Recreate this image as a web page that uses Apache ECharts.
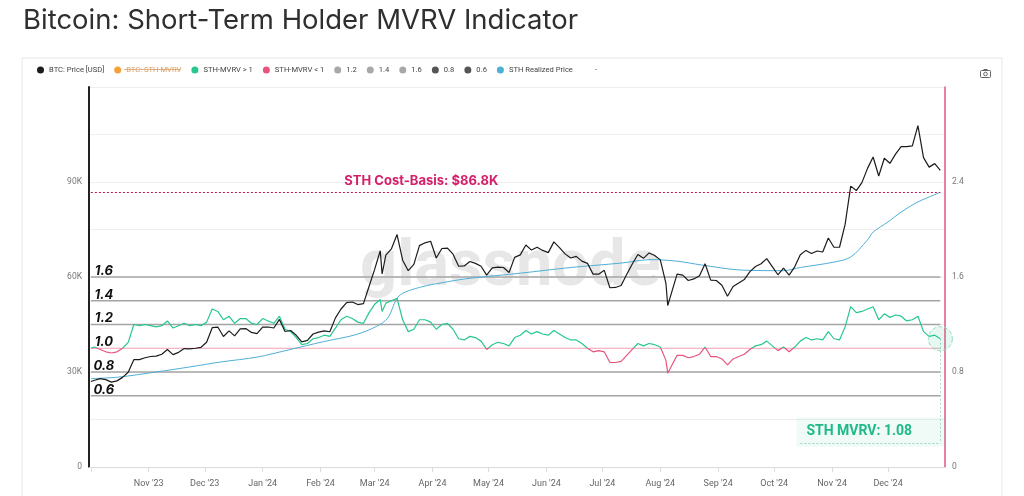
<!doctype html>
<html>
<head>
<meta charset="utf-8">
<title>Bitcoin: Short-Term Holder MVRV Indicator</title>
<script src="https://cdn.jsdelivr.net/npm/echarts@6/dist/echarts.min.js"></script>
<style>
    html, body { margin: 0; background: #fff; }
    #main { width: 1024px; height: 496px; }
</style>
</head>
<body>
<div id="main"></div>
<script>
// daily-ish samples (price in K USD, STH-MVRV ratio)
var dates = [
    '2023-10-01', '2023-10-03', '2023-10-06', '2023-10-09', '2023-10-12', '2023-10-15', '2023-10-18', '2023-10-21', '2023-10-24', '2023-10-27', '2023-10-30',
    '2023-11-02', '2023-11-05', '2023-11-08', '2023-11-11', '2023-11-14', '2023-11-17', '2023-11-20', '2023-11-23', '2023-11-26', '2023-11-29',
    '2023-12-02', '2023-12-05', '2023-12-08', '2023-12-11', '2023-12-14', '2023-12-17', '2023-12-20', '2023-12-23', '2023-12-26', '2023-12-29',
    '2024-01-01', '2024-01-04', '2024-01-07', '2024-01-10', '2024-01-13', '2024-01-16', '2024-01-19', '2024-01-22', '2024-01-25', '2024-01-28', '2024-01-31',
    '2024-02-03', '2024-02-06', '2024-02-09', '2024-02-12', '2024-02-15', '2024-02-18', '2024-02-21', '2024-02-24', '2024-02-27',
    '2024-03-01', '2024-03-04', '2024-03-05', '2024-03-07', '2024-03-10', '2024-03-13', '2024-03-16', '2024-03-19', '2024-03-22', '2024-03-25', '2024-03-28', '2024-03-31',
    '2024-04-03', '2024-04-06', '2024-04-09', '2024-04-12', '2024-04-15', '2024-04-18', '2024-04-21', '2024-04-24', '2024-04-27', '2024-04-30',
    '2024-05-03', '2024-05-06', '2024-05-09', '2024-05-12', '2024-05-15', '2024-05-18', '2024-05-21', '2024-05-24', '2024-05-27', '2024-05-30',
    '2024-06-02', '2024-06-05', '2024-06-08', '2024-06-11', '2024-06-14', '2024-06-17', '2024-06-20', '2024-06-23', '2024-06-26', '2024-06-29',
    '2024-07-02', '2024-07-05', '2024-07-08', '2024-07-11', '2024-07-14', '2024-07-17', '2024-07-20', '2024-07-23', '2024-07-26', '2024-07-29',
    '2024-08-01', '2024-08-04', '2024-08-05', '2024-08-07', '2024-08-10', '2024-08-13', '2024-08-16', '2024-08-19', '2024-08-22', '2024-08-25', '2024-08-28', '2024-08-31',
    '2024-09-03', '2024-09-06', '2024-09-09', '2024-09-12', '2024-09-15', '2024-09-18', '2024-09-21', '2024-09-24', '2024-09-27', '2024-09-30',
    '2024-10-03', '2024-10-06', '2024-10-09', '2024-10-12', '2024-10-15', '2024-10-18', '2024-10-21', '2024-10-24', '2024-10-27', '2024-10-30',
    '2024-11-02', '2024-11-05', '2024-11-08', '2024-11-11', '2024-11-14', '2024-11-17', '2024-11-20', '2024-11-23', '2024-11-26', '2024-11-29',
    '2024-12-02', '2024-12-05', '2024-12-08', '2024-12-11', '2024-12-14', '2024-12-17', '2024-12-20', '2024-12-23', '2024-12-26', '2024-12-29'
];

var btcPrice = [
    27.0, 27.4, 27.9, 27.6, 26.8, 27.2, 28.3, 29.9, 33.9, 33.9, 34.5,
    34.9, 35.0, 35.6, 37.1, 35.5, 36.2, 37.4, 37.3, 37.5, 37.8,
    39.4, 44.0, 44.2, 41.2, 43.0, 41.4, 43.6, 43.7, 42.5, 42.1,
    44.2, 44.2, 43.9, 46.6, 42.8, 43.1, 41.6, 39.5, 40.0, 42.0, 42.6,
    43.0, 42.7, 47.1, 49.9, 51.9, 52.1, 51.3, 51.6, 57.0,
    62.4, 68.3, 61.0, 66.9, 68.9, 73.4, 65.3, 62.0, 64.0, 69.9, 70.8, 71.3,
    66.0, 69.0, 69.1, 67.2, 63.4, 63.5, 64.9, 64.3, 63.4, 60.6,
    62.9, 63.1, 63.0, 61.4, 66.2, 67.0, 70.1, 68.5, 69.4, 68.4,
    67.7, 71.1, 69.3, 67.3, 66.0, 66.5, 65.0, 64.3, 60.9, 60.9,
    62.1, 56.6, 56.7, 57.3, 60.8, 64.1, 67.1, 65.9, 67.6, 66.8,
    65.4, 58.1, 51.0, 55.0, 60.9, 60.6, 58.9, 59.4, 60.4, 64.2, 59.0, 58.9,
    57.4, 53.9, 57.0, 58.1, 59.2, 61.7, 63.3, 64.2, 65.8, 63.3,
    60.7, 62.8, 60.6, 63.2, 67.0, 68.4, 67.4, 68.2, 67.9, 72.3,
    69.4, 69.4, 76.6, 88.7, 87.3, 89.8, 94.3, 97.9, 91.9, 97.5,
    95.9, 98.8, 101.2, 101.2, 101.4, 107.8, 97.7, 94.7, 95.8, 93.7
];

var sthMvrv = [
    1.00, 1.01, 0.99, 0.97, 0.96, 0.97, 1.00, 1.05, 1.20, 1.19, 1.20,
    1.19, 1.18, 1.19, 1.23, 1.17, 1.19, 1.21, 1.19, 1.20, 1.19,
    1.22, 1.33, 1.31, 1.24, 1.27, 1.21, 1.25, 1.25, 1.21, 1.20,
    1.25, 1.23, 1.21, 1.27, 1.16, 1.14, 1.09, 1.03, 1.04, 1.08, 1.09,
    1.11, 1.10, 1.17, 1.24, 1.27, 1.25, 1.22, 1.21, 1.30,
    1.37, 1.41, 1.31, 1.38, 1.40, 1.42, 1.24, 1.14, 1.16, 1.24, 1.24, 1.22,
    1.16, 1.20, 1.21, 1.16, 1.08, 1.07, 1.10, 1.09, 1.06, 0.99,
    1.03, 1.05, 1.04, 1.02, 1.09, 1.11, 1.15, 1.12, 1.14, 1.12,
    1.11, 1.15, 1.12, 1.09, 1.07, 1.07, 1.04, 1.00, 0.97, 0.98,
    0.97, 0.88, 0.88, 0.89, 0.94, 0.99, 1.04, 1.02, 1.04, 1.03,
    1.01, 0.90, 0.79, 0.85, 0.94, 0.94, 0.92, 0.93, 0.95, 1.01, 0.93, 0.93,
    0.91, 0.86, 0.91, 0.93, 0.95, 0.99, 1.02, 1.03, 1.06, 1.02,
    0.98, 1.01, 0.97, 1.01, 1.06, 1.09, 1.07, 1.08, 1.07, 1.14,
    1.08, 1.07, 1.18, 1.35, 1.30, 1.31, 1.33, 1.35, 1.24, 1.29,
    1.26, 1.28, 1.27, 1.23, 1.24, 1.27, 1.14, 1.10, 1.11, 1.08
];

var realizedDates = [
    '2023-10-01', '2023-10-16', '2023-11-05', '2023-11-23', '2023-12-10', '2023-12-29',
    '2024-01-15', '2024-02-02', '2024-02-20', '2024-03-02', '2024-03-08', '2024-03-14',
    '2024-03-25', '2024-04-10', '2024-04-21', '2024-05-18', '2024-06-14', '2024-07-11',
    '2024-07-27', '2024-08-10', '2024-08-23', '2024-09-13', '2024-10-06', '2024-10-15',
    '2024-11-02', '2024-11-11', '2024-11-20', '2024-11-23', '2024-12-01', '2024-12-08',
    '2024-12-17', '2024-12-26', '2024-12-29'
];
var realizedPrice = [
    27.9, 28.4, 30.0, 31.6, 33.2, 34.7,
    37.0, 39.5, 41.8, 44.4, 47.0, 54.0,
    56.7, 58.6, 59.6, 61.2, 63.0, 64.4,
    65.5, 65.0, 63.8, 62.2, 62.0, 63.0,
    64.7, 66.3, 71.7, 74.2, 77.4, 80.5,
    83.7, 86.0, 86.8
];

var levelNames = ['1.2', '1.4', '1.6', '0.8', '0.6'];
var levelValues = [1.2, 1.4, 1.6, 0.8, 0.6];
var costBasis = 86.8;
var lastMvrv = 1.08;
var monthNames = ['Jan', 'Feb', 'Mar', 'Apr', 'May', 'Jun', 'Jul', 'Aug', 'Sep', 'Oct', 'Nov', 'Dec'];

var GREEN = '#27c78e';
var PINK = '#e8557c';
var FONT = 'Roboto, "Noto Sans", sans-serif';

function ts(d) { return Date.parse(d); }
function pairs(xs, ys) {
    return xs.map(function (d, i) { return [ts(d), ys[i]]; });
}

var firstT = ts(dates[0]);
var lastT = ts(dates[dates.length - 1]);

function levelLabel(text, v) {
    return {
        coord: [firstT, v],
        symbol: 'circle',
        symbolSize: 1,
        itemStyle: { color: 'rgba(0,0,0,0)' },
        label: {
            show: true,
            formatter: text,
            position: 'top',
            distance: 2,
            offset: [13, 3],
            color: '#111',
            fontSize: 13,
            fontStyle: 'italic',
            fontWeight: 'bold',
            fontFamily: 'Inter, Roboto, sans-serif'
        }
    };
}

var series = [];

levelNames.forEach(function (name, i) {
    var v = levelValues[i];
    series.push({
        name: name,
        type: 'line',
        yAxisIndex: 1,
        symbol: 'none',
        silent: true,
        color: v < 1 ? '#555' : '#a8a8a8',
        lineStyle: { color: '#a4a4a4', width: 1.4 },
        data: [[firstT, v], [lastT, v]],
        markPoint: { data: [levelLabel(name, v)] },
        z: 1
    });
});

// the 1.0 level, plus the MVRV annotation on the right
series.push({
    name: '1.0',
    type: 'line',
    yAxisIndex: 1,
    symbol: 'none',
    silent: true,
    lineStyle: { color: '#f2a0b4', width: 1.2 },
    data: [[firstT, 1], [lastT, 1]],
    markPoint: {
        data: [
            levelLabel('1.0', 1),
            {
                coord: [ts('2024-11-22'), 0.295],
                symbol: 'circle',
                symbolSize: 1,
                itemStyle: { color: 'rgba(0,0,0,0)' },
                label: {
                    show: true,
                    position: 'inside',
                    formatter: 'STH MVRV: ' + lastMvrv.toFixed(2),
                    color: '#1fb987',
                    fontSize: 14,
                    fontWeight: 'bold',
                    fontFamily: 'Roboto, sans-serif',
                    backgroundColor: 'rgba(70, 200, 160, 0.08)',
                    padding: [8, 34, 7, 10]
                }
            },
            {
                coord: [lastT, lastMvrv],
                symbol: 'circle',
                symbolSize: 24,
                itemStyle: {
                    color: 'rgba(60, 200, 150, 0.12)',
                    borderColor: '#8fdcbf',
                    borderType: 'dashed',
                    borderWidth: 1
                },
                label: { show: false }
            }
        ]
    },
    markLine: {
        silent: true,
        symbol: 'none',
        label: { show: false },
        lineStyle: { color: '#9edfc6', type: [2, 2], width: 1 },
        data: [
            [{ coord: [lastT, lastMvrv] }, { coord: [lastT, 0.2] }],
            [{ coord: [ts('2024-10-15'), 0.2] }, { coord: [lastT, 0.2] }]
        ]
    },
    z: 1
});

// legend-only entries
[['BTC: STH-MVRV', '#f5a13a'], ['STH-MVRV > 1', GREEN], ['STH-MVRV < 1', PINK], ['-', 'rgba(0,0,0,0)']].forEach(function (d) {
    series.push({ name: d[0], type: 'line', color: d[1], data: [] });
});

series.push({
    name: 'STH Realized Price',
    type: 'line',
    yAxisIndex: 0,
    symbol: 'none',
    smooth: 0.3,
    color: '#4fb0d6',
    lineStyle: { width: 1 },
    data: pairs(realizedDates, realizedPrice),
    markLine: {
        silent: true,
        symbol: 'none',
        label: { show: false },
        lineStyle: { color: '#c2185b', type: [2, 2], width: 1.2 },
        data: [[{ coord: [firstT, costBasis] }, { coord: [lastT, costBasis] }]]
    },
    markPoint: {
        data: [{
            coord: [ts('2024-03-26'), costBasis],
            symbol: 'circle',
            symbolSize: 1,
            itemStyle: { color: 'rgba(0,0,0,0)' },
            label: {
                show: true,
                position: 'top',
                distance: 4,
                formatter: 'STH Cost-Basis: $' + costBasis + 'K',
                color: '#d4206a',
                fontSize: 13,
                fontWeight: 'bold',
                fontFamily: 'Inter, Roboto, sans-serif'
            }
        }]
    }
});

series.push({
    id: 'mvrv',
    name: 'STH-MVRV',
    type: 'line',
    yAxisIndex: 1,
    symbol: 'none',
    lineStyle: { width: 1.2, color: GREEN },
    data: pairs(dates, sthMvrv)
});

series.push({
    name: 'BTC: Price [USD]',
    type: 'line',
    yAxisIndex: 0,
    symbol: 'none',
    color: '#1c1c1c',
    lineStyle: { width: 1.2 },
    data: pairs(dates, btcPrice)
});

var chart = echarts.init(document.getElementById('main'));

chart.setOption({
    animation: false,
    backgroundColor: '#fff',
    title: {
        text: 'Bitcoin: Short-Term Holder MVRV Indicator',
        left: 18,
        top: 2,
        textStyle: { fontSize: 27.5, fontWeight: 'normal', color: '#2f2f2f', fontFamily: 'Inter, Roboto, sans-serif' }
    },
    graphic: [
        {
            type: 'rect',
            z: -10,
            silent: true,
            shape: { x: 22, y: 58, width: 980, height: 460 },
            style: { fill: '#fff', stroke: '#e8e8e8', lineWidth: 1 }
        },
        {
            type: 'text',
            z: 0,
            silent: true,
            left: 360,
            top: 236,
            style: {
                text: 'glassnode',
                fontSize: 65,
                fontWeight: 'bold',
                fontFamily: 'Roboto, sans-serif',
                fill: 'rgba(175, 175, 175, 0.3)'
            }
        },
        {
            // strike-through on the disabled legend entry
            type: 'line',
            silent: true,
            shape: { x1: 124, y1: 69.5, x2: 181, y2: 69.5 },
            style: { stroke: '#d9a066', lineWidth: 0.8 }
        },
        {
            // small camera icon, top right of the card
            type: 'group',
            silent: true,
            left: 978,
            top: 68,
            children: [
                { type: 'rect', shape: { x: 0, y: 1.5, width: 10, height: 7, r: 1 }, style: { fill: 'none', stroke: '#666', lineWidth: 1 } },
                { type: 'rect', shape: { x: 3, y: 0, width: 4, height: 2 }, style: { fill: '#666' } },
                { type: 'circle', shape: { cx: 5, cy: 5, r: 1.8 }, style: { fill: 'none', stroke: '#666', lineWidth: 1 } }
            ]
        }
    ],
    legend: {
        left: 32,
        top: 61,
        icon: 'circle',
        itemWidth: 7,
        itemHeight: 7,
        itemGap: 10,
        selectedMode: false,
        textStyle: { fontSize: 7.6, color: '#444', fontFamily: FONT },
        data: [
            'BTC: Price [USD]',
            { name: 'BTC: STH-MVRV', textStyle: { color: '#d9a066' } },
            'STH-MVRV > 1', 'STH-MVRV < 1',
            '1.2', '1.4', '1.6', '0.8', '0.6',
            'STH Realized Price', '-'
        ]
    },
    grid: { left: 89, right: 79, top: 87, bottom: 29 },
    xAxis: {
        type: 'time',
        min: ts('2023-09-30'),
        max: ts('2024-12-31T12:00:00Z'),
        minInterval: 28 * 864e5,
        maxInterval: 31 * 864e5,
        splitNumber: 15,
        axisLine: { lineStyle: { color: '#dcdcdc' } },
        axisTick: { show: true, lineStyle: { color: '#dcdcdc' } },
        splitLine: { show: false },
        axisLabel: {
            color: '#666',
            fontSize: 9,
            fontFamily: FONT,
            margin: 12,
            formatter: function (v) {
                if (v < ts('2023-10-15')) return '';
                var d = new Date(v);
                return monthNames[d.getMonth()] + " '" + String(d.getFullYear()).slice(2);
            }
        }
    },
    yAxis: [
        {
            type: 'value',
            min: 0,
            max: 120,
            interval: 15,
            position: 'left',
            axisLine: { show: true, lineStyle: { color: '#222', width: 2 } },
            axisTick: { show: false },
            splitLine: { lineStyle: { color: '#efefef' } },
            axisLabel: {
                color: '#777',
                fontSize: 8.5,
                fontFamily: FONT,
                margin: 7,
                padding: [0, 0, 7, 0],
                formatter: function (v) {
                    if (v % 30 !== 0 || v >= 120) return '';
                    return v === 0 ? '0' : v + 'K';
                }
            }
        },
        {
            type: 'value',
            min: 0,
            max: 3.2,
            interval: 0.4,
            position: 'right',
            axisLine: { show: true, lineStyle: { color: '#e0577c', width: 1.5 } },
            axisTick: { show: false },
            splitLine: { show: false },
            axisLabel: {
                color: '#777',
                fontSize: 8.5,
                fontFamily: FONT,
                margin: 7,
                padding: [0, 0, 7, 0],
                formatter: function (v) {
                    var k = Math.round(v * 10);
                    if (k % 8 !== 0 || k >= 32) return '';
                    return k === 0 ? '0' : (k / 10).toFixed(1);
                }
            }
        }
    ],
    series: series
});

// colour the MVRV line green above 1 and pink below, split at the axis position of 1.0
var yTop = chart.convertToPixel({ yAxisIndex: 1 }, 3.2);
var yBottom = chart.convertToPixel({ yAxisIndex: 1 }, 0);
var yOne = chart.convertToPixel({ yAxisIndex: 1 }, 1);
var t = (yOne - yTop) / (yBottom - yTop);
chart.setOption({
    series: [{
        id: 'mvrv',
        lineStyle: {
            color: new echarts.graphic.LinearGradient(0, yTop, 0, yBottom, [
                { offset: 0, color: GREEN },
                { offset: t, color: GREEN },
                { offset: t, color: PINK },
                { offset: 1, color: PINK }
            ], true)
        }
    }]
});

window.onresize = chart.resize;
</script>
</body>
</html>
